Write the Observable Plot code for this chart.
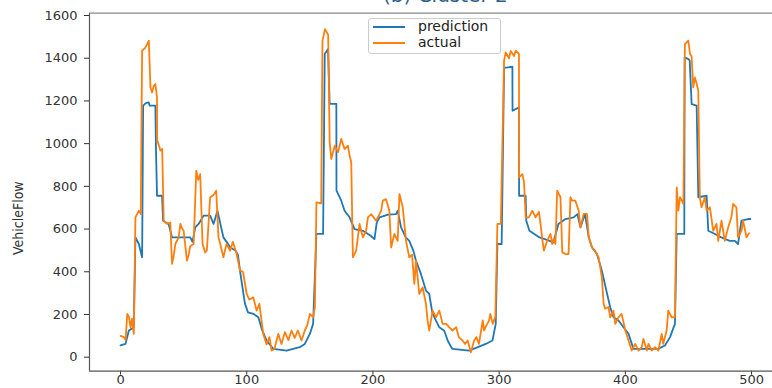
<!DOCTYPE html>
<html><head><meta charset="utf-8">
<script src="https://cdn.jsdelivr.net/npm/d3@7"></script>
<script src="https://cdn.jsdelivr.net/npm/@observablehq/plot@0.6"></script>
<style>
body{margin:0;background:#fff;}
#wrap{position:relative;width:772px;height:388px;overflow:hidden;background:#fff;}
#title{position:absolute;left:383px;top:-15px;font:20px "DejaVu Sans";line-height:20px;color:#2a5d8f;white-space:nowrap;}
#legend{position:absolute;left:368px;top:18px;width:131px;height:34px;border:1px solid #ccc;border-radius:3px;background:rgba(255,255,255,0.8);font:14px "DejaVu Sans";color:#222;}
.lk{position:absolute;left:4px;width:32px;height:2px;}
.lt{position:absolute;left:49px;line-height:16px;white-space:nowrap;}
</style></head><body><div id="wrap"></div><script>
const seriesNames = ["prediction", "actual"];
const seriesColors = ["#1f77b4", "#ff7f0e"];
const xTicks = [0, 100, 200, 300, 400, 500];
const yTicks = [0, 200, 400, 600, 800, 1000, 1200, 1400, 1600];
const titleText = "(b) Cluster 2";
const yLabel = "VehicleFlow";

const predX = [0,3.9,6.6,10.5,11.8,14.5,17.1,17.9,20,22.4,23,27.6,28.1,28.9,32.9,33.7,38.1,40.8,55.2,57,59.2,62,65.8,71,73.7,76.8,81.5,84,87,91,93,95,98.6,101,105.2,109.2,112,115.7,121,131.5,142,146,150,152.6,155.2,160.5,161.8,164.4,165.7,171,171.1,174.9,177.5,181.5,185.4,192,198,201.2,203,205.2,212,218.3,219.6,222.3,226,228.8,232,234.1,238,242,244.6,247,249.9,252.6,256.5,259.2,262,263,276.3,289.4,294.7,297.3,298.6,302,303.9,310.5,310.6,315.7,315.8,321,321.5,324,332,340,343,347,352.5,359,362,364.4,368,371,373.6,377.5,381.4,385.4,388,390.6,394.6,398.5,402.5,406.4,426,431.4,435.4,439.3,440.7,446.7,447,450,451,452.5,456.5,457.8,464.4,465.7,471,476,482.7,486.7,489.3,492,497.2,499];
const predY = [55,62,125,140,561,530,468,1178,1190,1193,1178,1178,967,756,756,639,624,561,561,540,608,625,663,663,624,686,561,540,514,500,480,390,250,210,203,187,130,78,39,31,47,62,109,156,577,577,1420,1443,1186,1186,780,733,686,655,600,592,570,553,630,655,668,670,686,608,561,545,499,452,390,312,296,210,171,140,124,78,47,39,31,62,78,156,530,530,1355,1360,1154,1170,756,756,639,592,561,545,537,624,647,655,670,608,671,561,514,483,405,300,234,187,172,140,110,39,39,55,94,156,577,577,1404,1396,1388,1185,1178,749,756,592,577,561,545,545,530,639,647,647];

const actX = [0,2.6,4,5.3,6.6,7.9,9,10.5,11.8,14.5,16,17.1,19.7,22.4,23.7,25,26.3,27.6,28.9,29,30,31.6,33,34.2,36.8,39.4,40.8,42,43.4,46,47.4,49,50,52.6,54,55.2,57.9,60,61.5,63.1,65,67,68.4,71,73.7,75.8,77.6,79,81.5,84,86.8,89,92,94.7,97,100,102,105.2,107.8,110,113.1,115.7,118,119.7,122,125,127.5,130.2,133,135.5,138,140.5,143.4,146,148,150,152.6,154,155.2,159,160,162,164.5,165.7,167,169.7,172.3,174.9,177.5,180.2,181.5,182.8,184.1,186.7,189.4,192,194.6,196,198.6,202.5,205.2,206.5,207.8,210.4,213,214.4,217,219.6,221,223.6,226.2,228.8,231,232.8,234.1,236.7,239.4,242,243.3,244.6,247.3,249.9,252.6,255.2,258,260.5,263,266,268,271,273,275,277.6,280.2,282,284,287,288,290,292,293,295,297,298.6,301.3,303.9,305.2,307.8,309.2,311.8,313.1,315.7,315.8,318.4,319.7,321,323.6,326.3,328.8,331.5,332.8,334,335.4,338,340.7,342,343.3,344.6,346,348.6,350,352.6,355,356.5,357.8,360.4,363,364.4,367,369.6,371,373.6,376,378.8,381.4,382.8,384,386.7,388,390.6,392,394.6,397,400,402.5,405,407.8,410.4,413,414.3,417,418.3,421,423.5,426.2,428.8,430,432.7,434,436.7,439.3,440.7,442,443.3,446,447.2,449.9,451.2,452.5,453.8,455.1,456.5,457.8,459,460.4,463,464.4,467,469.6,472.2,473.6,476.2,478.8,481.5,484,485.4,488,489.3,492,493.3,496,498];
const actY = [100,94,80,203,190,140,180,109,655,686,670,1435,1450,1482,1263,1240,1270,1279,1216,1014,1000,967,975,639,624,630,437,470,530,560,624,600,592,452,480,520,530,873,830,857,530,490,500,749,760,780,561,530,468,530,499,540,483,405,400,296,270,280,218,250,109,60,94,31,40,109,62,117,80,125,90,125,78,125,150,203,187,235,725,720,1481,1536,1510,1006,928,990,960,1022,975,990,944,913,468,499,624,561,592,655,670,639,670,686,733,740,686,514,577,545,764,702,545,468,480,343,452,296,327,250,171,124,218,187,218,156,156,140,125,140,94,78,62,78,23,78,94,62,172,125,150,171,203,156,190,624,624,1388,1427,1400,1434,1410,1435,1420,842,857,820,655,655,686,655,680,624,561,499,545,577,530,555,530,780,749,491,483,483,749,733,733,686,608,671,671,561,514,499,467,374,250,227,235,187,218,156,187,203,125,78,31,62,31,47,86,31,62,31,47,31,109,62,125,218,187,187,795,686,749,718,1466,1482,1420,1410,1263,1310,1280,1248,749,702,749,686,702,592,624,545,639,545,608,655,718,702,561,592,639,561,580];

const pred = predX.map((x, i) => ({x, y: predY[i]}));
const act = actX.map((x, i) => ({x, y: actY[i]}));
const xDom = [-24.6, 516.6];
const yDom = [-65.6, 1610.8];

const plot = Plot.plot({
  width: 772, height: 388,
  marginLeft: 89, marginRight: 0, marginTop: 12.7, marginBottom: 17.3,
  style: {fontFamily: "DejaVu Sans", fontSize: "13px", color: "#333", background: "white"},
  x: {domain: xDom, ticks: xTicks, tickSize: 4, tickPadding: 0, tickFormat: d => String(d), label: null},
  y: {domain: yDom, ticks: yTicks, tickSize: 5, tickPadding: 7, tickFormat: d => String(d), label: null},
  marks: [
    Plot.ruleX([xDom[0]], {stroke: "#555", strokeWidth: 1.2}),
    Plot.ruleY([yDom[0]], {stroke: "#555", strokeWidth: 1.2}),
    Plot.ruleY([yDom[1]], {stroke: "#888", strokeWidth: 1.2}),
    Plot.line(pred, {x: "x", y: "y", stroke: seriesColors[0], strokeWidth: 1.8}),
    Plot.line(act, {x: "x", y: "y", stroke: seriesColors[1], strokeWidth: 1.8}),
    Plot.text([yLabel], {text: d => d, frameAnchor: "left", textAnchor: "middle", rotate: -90, dx: -71, dy: 26,
      fontFamily: "Liberation Sans Narrow, DejaVu Sans Condensed, sans-serif", fontSize: 14, fill: "#333"})
  ]
});
const wrap = document.getElementById("wrap");
wrap.appendChild(plot);

const t = document.createElement("div");
t.id = "title"; t.textContent = titleText;
wrap.appendChild(t);

const lg = document.createElement("div");
lg.id = "legend";
seriesNames.forEach((name, i) => {
  const k = document.createElement("div");
  k.className = "lk"; k.style.top = (7 + 16 * i) + "px"; k.style.background = seriesColors[i];
  lg.appendChild(k);
  const tx = document.createElement("div");
  tx.className = "lt"; tx.style.top = (-1 + 16 * i) + "px"; tx.textContent = name;
  lg.appendChild(tx);
});
wrap.appendChild(lg);
</script></body></html>
